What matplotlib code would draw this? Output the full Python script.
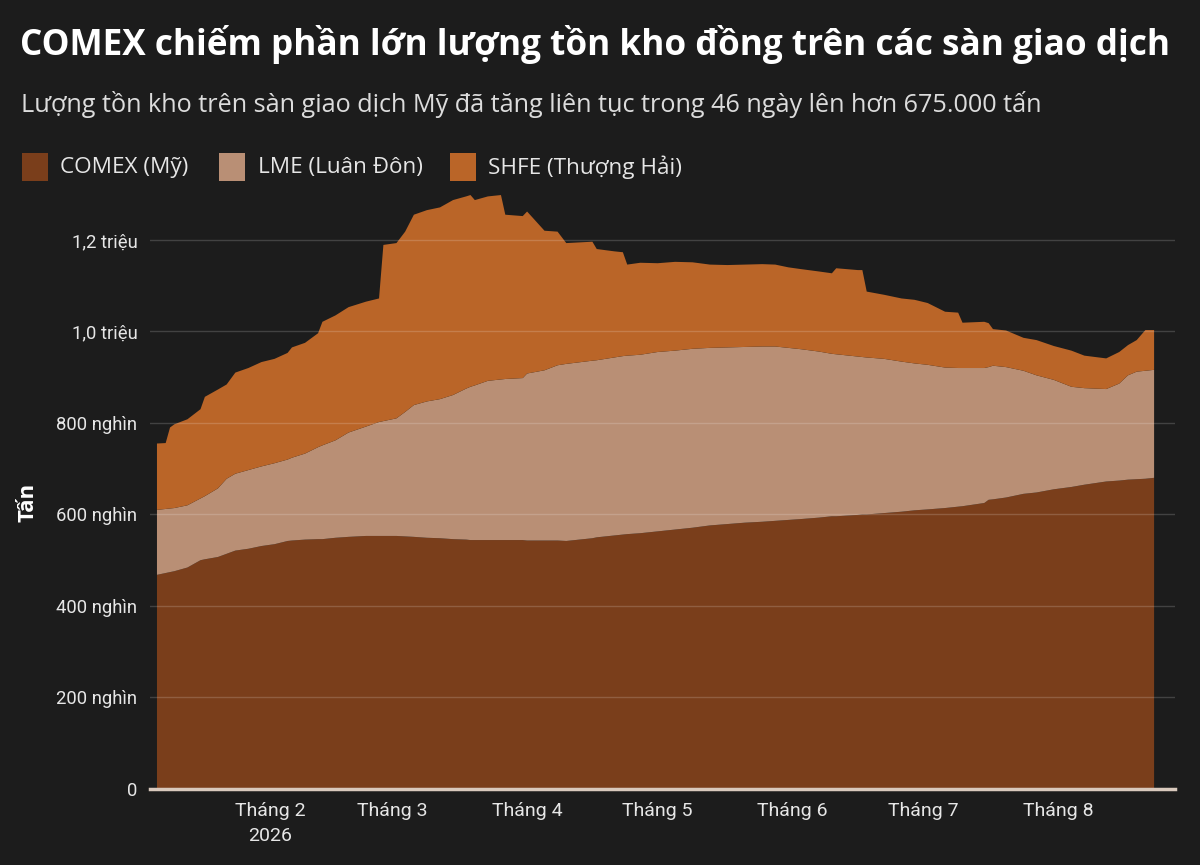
import pandas as pd
from matplotlib import pyplot as plt
from matplotlib.patches import Rectangle

BG = "#1c1c1c"
C_COMEX = "#7a3e1b"
C_LME = "#b98f75"
C_SHFE = "#ba6528"

# data (thousand tonnes)
dates = [
    "2026-01-06", "2026-01-08", "2026-01-09", "2026-01-10", "2026-01-13", "2026-01-16",
    "2026-01-17", "2026-01-20", "2026-01-22", "2026-01-24", "2026-01-27", "2026-01-30",
    "2026-02-02", "2026-02-05", "2026-02-06", "2026-02-09", "2026-02-12", "2026-02-13",
    "2026-02-16", "2026-02-19", "2026-02-23", "2026-02-26", "2026-02-27", "2026-03-02",
    "2026-03-04", "2026-03-06", "2026-03-09", "2026-03-12", "2026-03-15", "2026-03-18",
    "2026-03-19", "2026-03-20", "2026-03-23", "2026-03-26", "2026-03-27", "2026-03-31",
    "2026-04-01", "2026-04-05", "2026-04-08", "2026-04-10", "2026-04-16", "2026-04-17",
    "2026-04-21", "2026-04-23", "2026-04-24", "2026-04-27", "2026-05-01", "2026-05-05",
    "2026-05-09", "2026-05-13", "2026-05-17", "2026-05-21", "2026-05-25", "2026-05-28",
    "2026-05-31", "2026-06-03", "2026-06-07", "2026-06-10", "2026-06-11", "2026-06-16",
    "2026-06-17", "2026-06-18", "2026-06-22", "2026-06-26", "2026-06-29", "2026-07-02",
    "2026-07-06", "2026-07-09", "2026-07-10", "2026-07-15", "2026-07-16", "2026-07-17",
    "2026-07-20", "2026-07-24", "2026-07-27", "2026-07-31", "2026-08-04", "2026-08-07",
    "2026-08-12", "2026-08-15", "2026-08-17", "2026-08-19", "2026-08-21", "2026-08-23",
]
comex = [
    468, 472, 474, 476, 484, 500, 502, 507, 514, 521, 525, 531,
    535, 542, 543, 545, 546, 546, 549, 551, 553, 553, 553, 553,
    552, 551, 549, 548, 546, 545, 544, 544, 544, 544, 544, 544,
    543, 543, 543, 542, 548, 550, 554, 556, 557, 559, 563, 567,
    571, 576, 579, 582, 584, 586, 588, 590, 593, 596, 596, 599,
    600, 600, 603, 606, 609, 611, 614, 617, 618, 625, 632, 633,
    637, 645, 648, 655, 660, 665, 672, 674, 676, 677, 678, 680,
]
lme = [
    142, 140, 139, 138, 136, 135, 138, 150, 164, 168, 172, 174,
    177, 178, 181, 188, 201, 205, 213, 228, 239, 249, 251, 257,
    272, 288, 298, 304, 315, 330, 335, 338, 348, 351, 352, 354,
    365, 372, 383, 387, 388, 387, 389, 390, 390, 390, 392, 391,
    391, 388, 386, 384, 383, 381, 376, 371, 363, 355, 354, 346,
    344, 343, 337, 328, 321, 316, 307, 303, 302, 295, 290, 292,
    285, 269, 256, 239, 219, 211, 202, 212, 228, 235, 236, 236,
]
shfe = [
    145, 144, 177, 183, 188, 195, 217, 216, 206, 221, 223, 228,
    228, 233, 241, 242, 249, 270, 273, 274, 273, 270, 385, 383,
    394, 416, 418, 419, 426, 420, 419, 405, 403, 403, 359, 354,
    354, 305, 292, 264, 260, 243, 232, 227, 199, 201, 194, 194,
    189, 182, 180, 180, 180, 179, 176, 175, 175, 176, 188, 189,
    190, 144, 140, 138, 139, 135, 122, 121, 99, 101, 96, 80,
    80, 72, 77, 74, 79, 71, 67, 69, 66, 69, 89, 87,
]

series_names = ["COMEX (Mỹ)", "LME (Luân Đôn)", "SHFE (Thượng Hải)"]
y_ticks = [0, 200, 400, 600, 800, 1000, 1200]
y_labels = ["0", "200 nghìn", "400 nghìn", "600 nghìn", "800 nghìn", "1,0 triệu", "1,2 triệu"]
month_ticks = ["2026-02-01", "2026-03-01", "2026-04-01", "2026-05-01",
               "2026-06-01", "2026-07-01", "2026-08-01"]
month_labels = ["Tháng 2\n2026", "Tháng 3", "Tháng 4", "Tháng 5", "Tháng 6", "Tháng 7", "Tháng 8"]

plt.rcParams["font.family"] = ["Roboto", "DejaVu Sans"]
HEAD_FONT = ["Open Sans", "DejaVu Sans"]

W, H = 1200, 865
fig = plt.figure(figsize=(W / 100, H / 100), dpi=100, facecolor=BG)
ax = fig.add_axes([150 / W, 1 - 789 / H, (1175 - 150) / W, (789 - 190) / H])
ax.set_facecolor(BG)

x = pd.to_datetime(dates)
ax.stackplot(x, comex, lme, shfe, colors=[C_COMEX, C_LME, C_SHFE], linewidth=0)

start = pd.Timestamp("2026-01-06")
ax.set_xlim(start - pd.Timedelta(days=1.6), start + pd.Timedelta(days=233.8))
ax.set_ylim(0, 1309)

ax.set_yticks(y_ticks)
ax.set_yticklabels(y_labels)
ax.set_xticks(pd.to_datetime(month_ticks))
ax.set_xticklabels(month_labels)
for lab in ax.get_xticklabels():
    lab.set_linespacing(1.55)

ax.tick_params(axis="y", length=0, pad=9, labelsize=13.3, labelcolor="#e6e6e6")
ax.tick_params(axis="x", length=0, pad=9, labelsize=14, labelcolor="#e6e6e6")
for s in ax.spines.values():
    s.set_visible(False)

ax.set_axisbelow(False)
ax.yaxis.grid(True, color="white", alpha=0.17, linewidth=1)
ax.axhline(0, color="#d9c9bd", linewidth=2.5, zorder=4, clip_on=False)

ax.set_ylabel("Tấn", fontsize=16, fontweight="bold", color="white", family=HEAD_FONT)
ax.yaxis.set_label_coords(-(150 - 38) / (1175 - 150), (789 - 502) / (789 - 190))

fig.text(20 / W, 1 - 45 / H, "COMEX chiếm phần lớn lượng tồn kho đồng trên các sàn giao dịch",
         fontsize=25.3, fontweight="bold", color="white", va="center", ha="left",
         family=HEAD_FONT)
fig.text(21 / W, 1 - 105 / H,
         "Lượng tồn kho trên sàn giao dịch Mỹ đã tăng liên tục trong 46 ngày lên hơn 675.000 tấn",
         fontsize=18.2, color="#dcdcdc", va="center", ha="left", family=HEAD_FONT)

# legend
legend_x = [(22, 60), (219, 258), (450, 488)]
for (sx, tx), name, col in zip(legend_x, series_names, [C_COMEX, C_LME, C_SHFE]):
    fig.patches.append(Rectangle((sx / W, 1 - 181 / H), 26 / W, 28 / H,
                                 transform=fig.transFigure, facecolor=col, edgecolor="none"))
    fig.text(tx / W, 1 - 167 / H, name, fontsize=16.2, color="#e6e6e6", va="center", ha="left",
             family=HEAD_FONT)

fig.savefig("out.png", dpi=100, facecolor=BG)
